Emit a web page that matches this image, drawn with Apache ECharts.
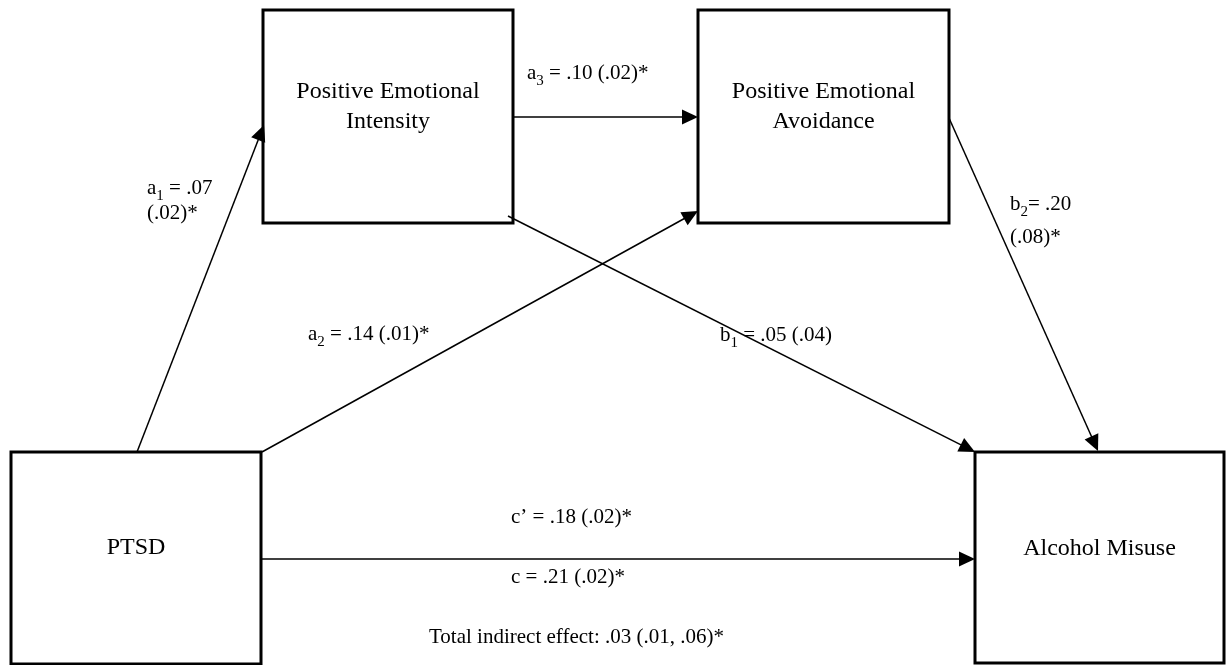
<!DOCTYPE html>
<html><head><meta charset="utf-8">
<script src="https://cdn.jsdelivr.net/npm/echarts@6/dist/echarts.min.js"></script>
<style>html,body{margin:0;padding:0;background:#fff}#c{width:1227px;height:665px}</style>
</head><body><div id="c"></div>
<script>
// Nodes of the path model (diagram units = pixels of the reference)
const nodeNames = ['Positive Emotional\nIntensity', 'Positive Emotional\nAvoidance', 'PTSD', 'Alcohol Misuse'];
const nodeLeft = [263, 698, 11, 975];
const nodeTop = [10, 10, 452, 452];
const nodeRight = [513, 949, 261, 1224];
const nodeBottom = [223, 223, 664, 663];
const nodeTextY = [107, 107, 548, 549];

// Paths (arrows): start and tip points
const pathFromX = [137, 262, 513, 508, 949, 262];
const pathFromY = [452, 452, 117, 216, 118, 559];
const pathToX = [264, 698, 698, 975, 1098, 975];
const pathToY = [125, 211, 117, 452, 451, 559];

// Path coefficient labels
const labelTexts = [
  '{m|a}{s|1}{m| = .07}',
  '{m|(.02)*}',
  '{m|a}{s|3}{m| = .10 (.02)*}',
  '{m|a}{s|2}{m| = .14 (.01)*}',
  '{m|b}{s|1}{m| = .05 (.04)}',
  '{m|b}{s|2}{m|= .20}',
  '{m|(.08)*}',
  '{m|c\u2019 = .18 (.02)*}',
  '{m|c = .21 (.02)*}',
  '{m|Total indirect effect: .03 (.01, .06)*}'
];
const labelX = [147, 147, 527, 308, 720, 1010, 1010, 511, 511, 429];
const labelY = [188, 213, 73, 334, 335, 204, 237, 517, 577, 637];

const FONT = '"Liberation Serif", "Times New Roman", serif';

const chart = echarts.init(document.getElementById('c'), null, {renderer: 'canvas'});

const boxData = nodeNames.map((n, i) => [nodeLeft[i], nodeTop[i], nodeRight[i], nodeBottom[i], nodeTextY[i]]);
const arrowData = pathFromX.map((x, i) => [x, pathFromY[i], pathToX[i], pathToY[i]]);
const labelData = labelTexts.map((t, i) => [labelX[i], labelY[i]]);

chart.setOption({
  animation: false,
  backgroundColor: '#fff',
  grid: {left: 0, right: 0, top: 0, bottom: 0},
  xAxis: {type: 'value', min: 0, max: 1227, show: false},
  yAxis: {type: 'value', min: 0, max: 665, inverse: true, show: false},
  series: [
    {
      type: 'custom',
      silent: true,
      data: boxData,
      renderItem: function (params, api) {
        const p0 = api.coord([api.value(0), api.value(1)]);
        const p1 = api.coord([api.value(2), api.value(3)]);
        const tc = api.coord([(api.value(0) + api.value(2)) / 2, api.value(4)]);
        return {
          type: 'group',
          children: [
            {
              type: 'rect',
              shape: {x: p0[0], y: p0[1], width: p1[0] - p0[0], height: p1[1] - p0[1]},
              style: {fill: '#fff', stroke: '#000', lineWidth: 3}
            },
            {
              type: 'text',
              x: tc[0], y: tc[1],
              style: {
                text: nodeNames[params.dataIndex],
                fontFamily: FONT, fontSize: 24, lineHeight: 30,
                fill: '#000', align: 'center', verticalAlign: 'middle'
              }
            }
          ]
        };
      }
    },
    {
      type: 'custom',
      silent: true,
      data: arrowData,
      renderItem: function (params, api) {
        const a = api.coord([api.value(0), api.value(1)]);
        const b = api.coord([api.value(2), api.value(3)]);
        const dx = b[0] - a[0], dy = b[1] - a[1];
        const len = Math.sqrt(dx * dx + dy * dy);
        const ux = dx / len, uy = dy / len;
        const L = 16, W = 7.5;
        const bx = b[0] - ux * L, by = b[1] - uy * L;
        return {
          type: 'group',
          children: [
            {
              type: 'line',
              shape: {x1: a[0], y1: a[1], x2: bx + ux * 2, y2: by + uy * 2},
              style: {stroke: '#000', lineWidth: 1.5}
            },
            {
              type: 'polygon',
              shape: {points: [[b[0], b[1]], [bx - uy * W, by + ux * W], [bx + uy * W, by - ux * W]]},
              style: {fill: '#000'}
            }
          ]
        };
      }
    },
    {
      type: 'custom',
      silent: true,
      data: labelData,
      renderItem: function (params, api) {
        const p = api.coord([api.value(0), api.value(1)]);
        return {
          type: 'text',
          x: p[0], y: p[1],
          style: {
            text: labelTexts[params.dataIndex],
            align: 'left', verticalAlign: 'middle',
            fill: '#000',
            rich: {
              m: {fontFamily: FONT, fontSize: 21, lineHeight: 32, verticalAlign: 'middle', fill: '#000'},
              s: {fontFamily: FONT, fontSize: 15, lineHeight: 14, verticalAlign: 'bottom', fill: '#000'}
            }
          }
        };
      }
    }
  ]
});
</script>
</body></html>
